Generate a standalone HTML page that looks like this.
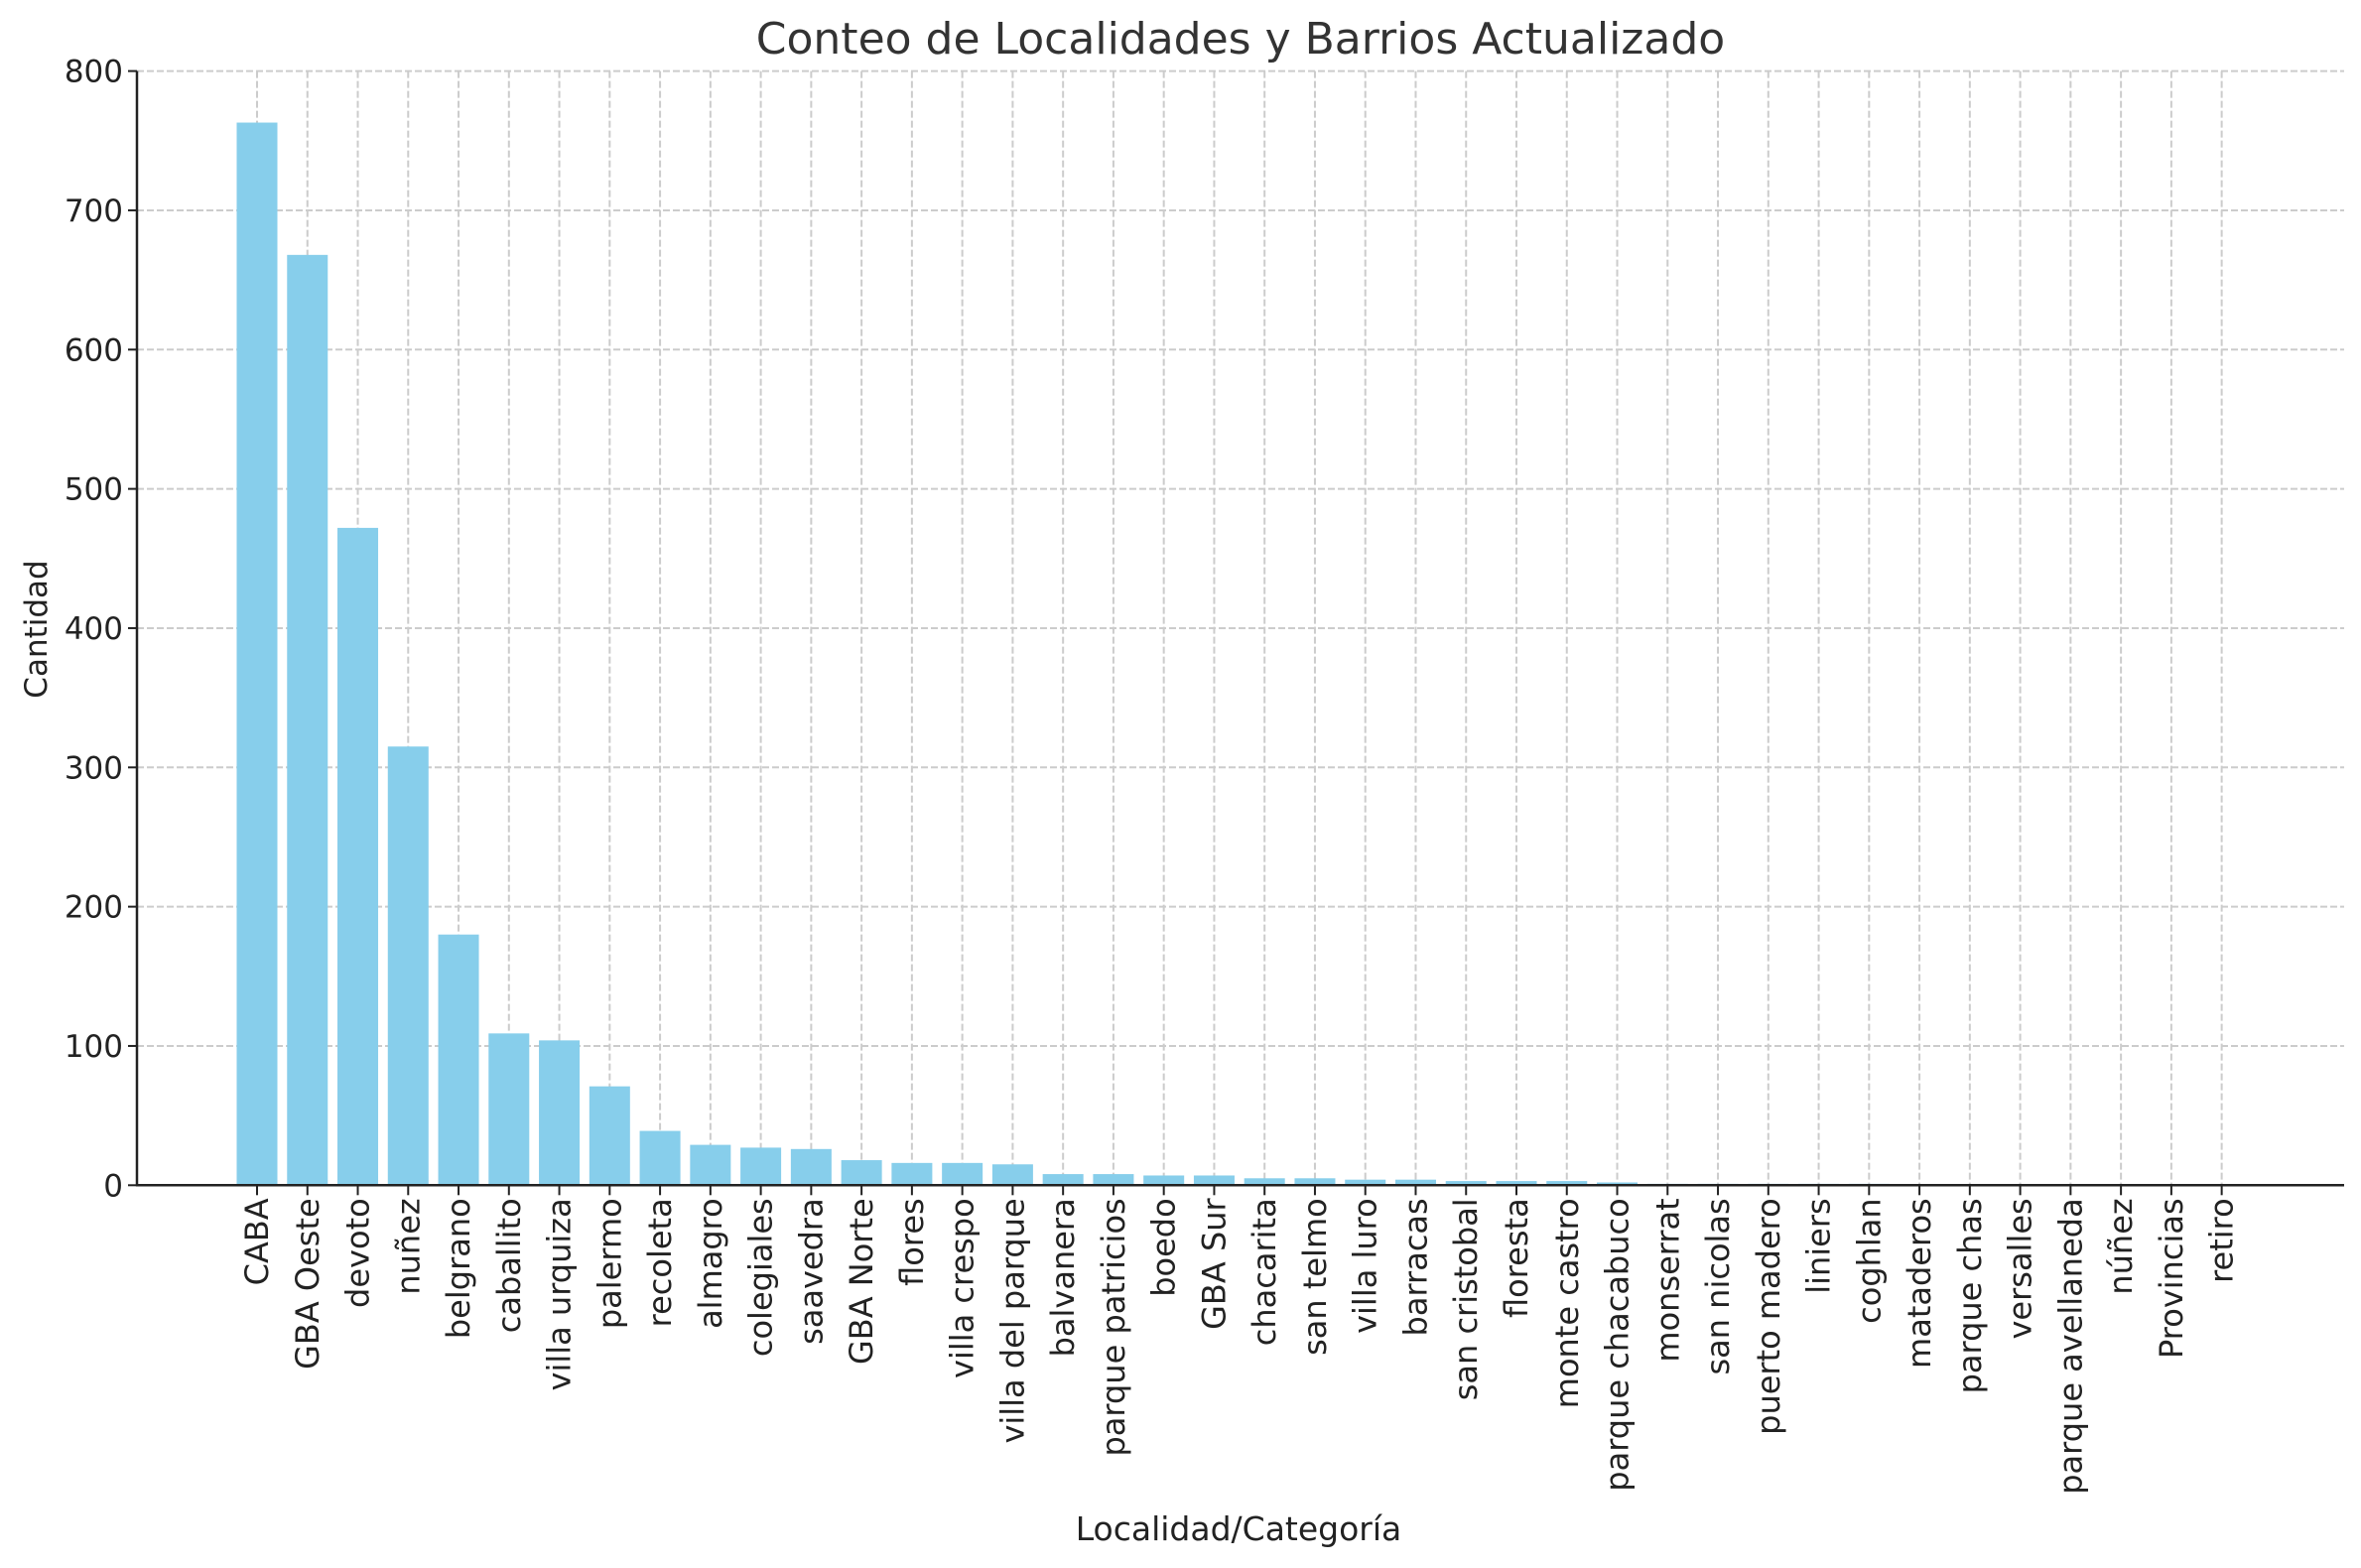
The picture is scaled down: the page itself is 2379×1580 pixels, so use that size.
<!DOCTYPE html>
<html><head><meta charset="utf-8"><style>
html,body{margin:0;padding:0;background:#fff;}
svg{display:block;font-family:"DejaVu Sans","Liberation Sans",sans-serif;}
</style></head><body>
<svg id="chart" width="2379" height="1580" viewBox="0 0 2379 1580" xmlns="http://www.w3.org/2000/svg">
<text x="1250" y="54" text-anchor="middle" font-size="44" fill="#333">Conteo de Localidades y Barrios Actualizado</text>
<g id="grid"></g>
<g id="bars"></g>
<g id="axes"></g>
<text x="1248" y="1552" text-anchor="middle" font-size="33" fill="#222">Localidad/Categoría</text>
<text transform="translate(47,634) rotate(-90)" text-anchor="middle" font-size="31" fill="#222">Cantidad</text>
</svg>
<script>
const categories = ["CABA","GBA Oeste","devoto","nuñez","belgrano","caballito","villa urquiza","palermo","recoleta","almagro","colegiales","saavedra","GBA Norte","flores","villa crespo","villa del parque","balvanera","parque patricios","boedo","GBA Sur","chacarita","san telmo","villa luro","barracas","san cristobal","floresta","monte castro","parque chacabuco","monserrat","san nicolas","puerto madero","liniers","coghlan","mataderos","parque chas","versalles","parque avellaneda","núñez","Provincias","retiro"];
const counts = [763,668,472,315,180,109,104,71,39,29,27,26,18,16,16,15,8,8,7,7,5,5,4,4,3,3,3,2,1,1,1,1,1,0,0,0,0,0,0,0];
const yTicks = [0,100,200,300,400,500,600,700,800];

const NS = "http://www.w3.org/2000/svg";
const X0 = 138, X1 = 2362, Y0 = 1194.3, YTOP = 71.6;
function xPos(i){ return 259 + i * 50.76; }
function yPos(v){ return Y0 - v * (Y0 - YTOP) / 800; }
function mk(tag, attrs, parent){ const e = document.createElementNS(NS, tag); for (const k in attrs) e.setAttribute(k, attrs[k]); parent.appendChild(e); return e; }
const grid = document.getElementById('grid'), bars = document.getElementById('bars'), axes = document.getElementById('axes');

yTicks.forEach(t => {
  const y = yPos(t);
  const g = mk('line', {x1:X0, x2:X1, y1:y, y2:y, stroke:'#cccccc', 'stroke-width':2, 'stroke-dasharray':'7,3'}, grid);
  
  
  const tk = mk('line', {x1:X0-9, x2:X0, y1:y, y2:y, stroke:'#222', 'stroke-width':2}, axes);
  
  
  const lb = mk('text', {x:X0-14, y:y+11, 'text-anchor':'end', 'font-size':31, fill:'#222'}, axes);
  lb.textContent = t;
  
  
});
categories.forEach((c, i) => {
  const x = xPos(i);
  const g = mk('line', {x1:x, x2:x, y1:YTOP, y2:Y0, stroke:'#cccccc', 'stroke-width':2, 'stroke-dasharray':'7,3'}, grid);
  
  
  const h = Y0 - yPos(counts[i]);
  const b = mk('rect', {x:x-20.5, y:yPos(counts[i]), width:41, height:h, fill:'#87ceeb'}, bars);
  
  
  const tk = mk('line', {x1:x, x2:x, y1:Y0, y2:Y0+10, stroke:'#222', 'stroke-width':2}, axes);
  
  
  const lb = mk('text', {transform:`translate(${x+11},${Y0+13}) rotate(-90)`, 'text-anchor':'end', 'font-size':32, fill:'#222'}, axes);
  lb.textContent = c;
  
  
});
const ya = mk('line', {x1:X0, x2:X0, y1:YTOP, y2:Y0+1, stroke:'#222', 'stroke-width':2.5}, axes);


const xa = mk('line', {x1:X0-1, x2:X1, y1:Y0, y2:Y0, stroke:'#222', 'stroke-width':2.5}, axes);


</script>
</body></html>
